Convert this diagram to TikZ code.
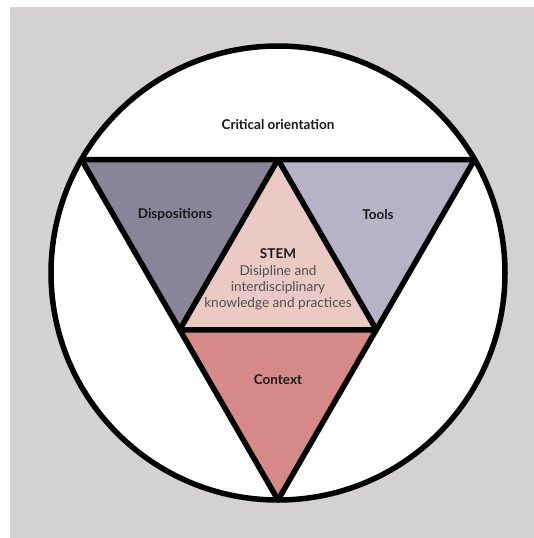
\documentclass[tikz,border=0pt]{standalone}
\usepackage{fontspec}
\setmainfont{Lato}
\definecolor{bggray}{HTML}{D3D1D2}
\definecolor{dispcol}{HTML}{8A8499}
\definecolor{toolcol}{HTML}{B7B2C6}
\definecolor{stemcol}{HTML}{EBCAC6}
\definecolor{ctxcol}{HTML}{D68A87}
\definecolor{subtext}{HTML}{505050}
\begin{document}
\begin{tikzpicture}[x=1pt,y=-1pt,
  outline/.style={line width=5.5pt,draw=black,line join=round},
  lbl/.style={font=\bfseries\fontsize{13.5}{15}\selectfont,text=black!90,inner sep=0pt},
  sublbl/.style={font=\fontsize{13.6}{15.8}\selectfont,text=subtext,align=center,inner sep=0pt}]
\useasboundingbox (0,0) rectangle (534,538);
\fill[white] (0,0) rectangle (534,538);
\fill[bggray] (10,7) rectangle (534,538);
\coordinate (O) at (278,273);
\coordinate (A) at (81.4,159.5);
\coordinate (B) at (474.6,159.5);
\coordinate (C) at (278,500);
\coordinate (AB) at (278,159.5);
\coordinate (BC) at (376.3,329.75);
\coordinate (CA) at (179.7,329.75);
\fill[white] (O) circle[radius=227];
\fill[dispcol] (A) -- (AB) -- (CA) -- cycle;
\fill[toolcol] (AB) -- (B) -- (BC) -- cycle;
\fill[stemcol] (AB) -- (BC) -- (CA) -- cycle;
\fill[ctxcol] (CA) -- (BC) -- (C) -- cycle;
\draw[outline] (A) -- (B) -- (C) -- cycle;
\draw[outline] (AB) -- (BC) -- (CA) -- cycle;
\draw[outline] (O) circle[radius=227];
\node[lbl] (crit) at (278,125) {Critical orientation};
\node[lbl] (disp) at (175,215) {Dispositions};
\node[lbl] (tools) at (378,215) {Tools};
\node[lbl] (stem) at (278,254) {STEM};
\node[sublbl] (stemsub) at (278,288) {Disipline and\\interdisciplinary\\knowledge and practices};
\node[lbl] (ctx) at (278,380) {Context};
\end{tikzpicture}
\end{document}
